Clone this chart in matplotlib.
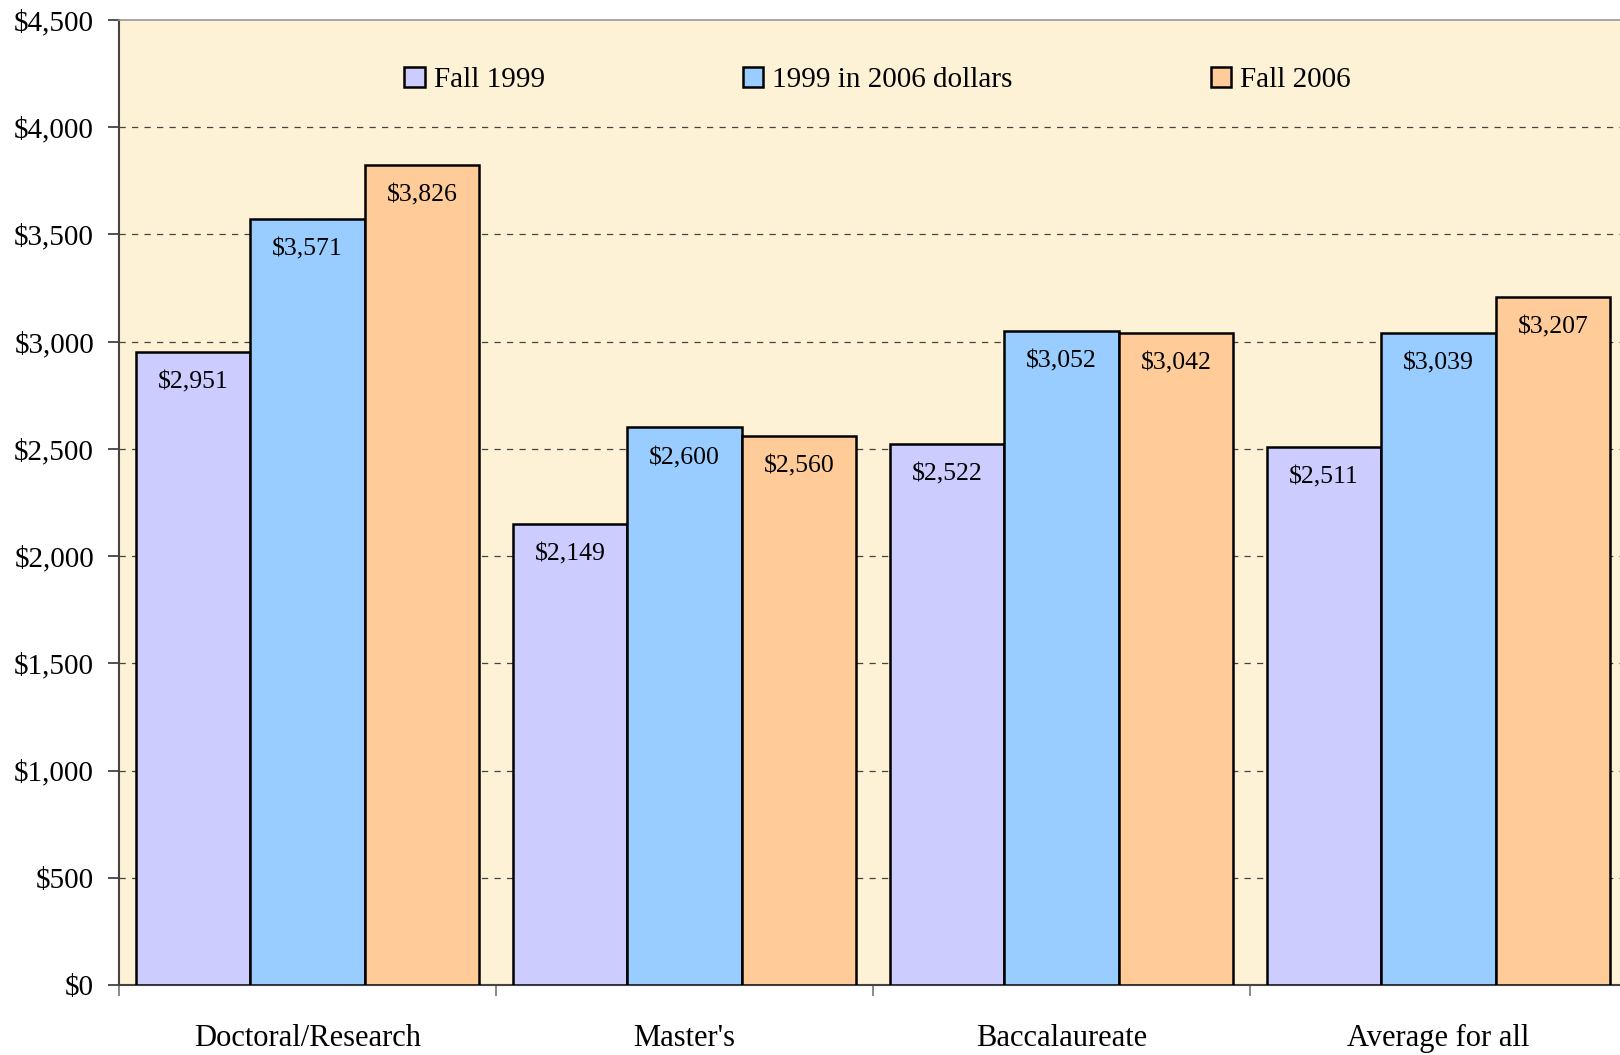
import matplotlib
matplotlib.use("Agg")
import matplotlib.pyplot as plt
import numpy as np

# --------- Data ---------
categories = ["Doctoral/Research", "Master's", "Baccalaureate", "Average for all"]
series_names = ["Fall 1999", "1999 in 2006 dollars", "Fall 2006"]
fall_1999 = [2951, 2149, 2522, 2511]
dollars_2006 = [3571, 2600, 3052, 3039]
fall_2006 = [3826, 2560, 3042, 3207]
y_ticks = [0, 500, 1000, 1500, 2000, 2500, 3000, 3500, 4000, 4500]
# ------------------------

colors = ["#CCCCFF", "#99CCFF", "#FFCC99"]
bg_color = "#FDF2D5"

plt.rcParams["font.family"] = ["Liberation Serif", "DejaVu Serif"]

fig = plt.figure(figsize=(16.2, 10.55), dpi=100)
# plot area runs slightly past the right edge like the original
ax = fig.add_axes([0.0735, 0.0664, 0.9308, 0.9146])
ax.set_facecolor(bg_color)

x = np.arange(len(categories))
bar_w = 0.304
all_series = [fall_1999, dollars_2006, fall_2006]

for i, (vals, name, col) in enumerate(zip(all_series, series_names, colors)):
    pos = x + (i - 1) * bar_w
    bars = ax.bar(pos, vals, width=bar_w, color=col, edgecolor="black",
                  linewidth=1.8, label=name, zorder=3)
    for b, v in zip(bars, vals):
        ax.annotate(f"${v:,}", (b.get_x() + b.get_width() / 2, v),
                    xytext=(0, -22), textcoords="offset points",
                    ha="center", va="center", fontsize=18.5, zorder=4)

ax.set_xlim(-0.5, len(categories) - 0.5)
ax.set_ylim(0, 4500)

# y axis
ax.set_yticks(y_ticks)
ax.set_yticklabels([f"${v:,}" for v in y_ticks], fontsize=21)
ax.tick_params(axis="y", direction="out", length=8, width=1.2,
               color="#333333", pad=10)
for v in y_ticks[1:-1]:
    ax.axhline(v, color="#444444", linestyle=(0, (5, 5)), linewidth=0.9, zorder=1)

# x axis: labels at centers, ticks at group boundaries
ax.set_xticks(x)
ax.set_xticklabels(categories, fontsize=22)
ax.tick_params(axis="x", which="major", length=0, pad=28)
ax.set_xticks(np.arange(len(categories) + 1) - 0.5, minor=True)
ax.tick_params(axis="x", which="minor", direction="out", length=8,
               width=1.2, color="#777777")

for side in ["left", "bottom"]:
    ax.spines[side].set_color("#444444")
    ax.spines[side].set_linewidth(1.5)
ax.spines["top"].set_color("#999999")
ax.spines["top"].set_linewidth(1.2)
ax.spines["right"].set_visible(False)

leg = ax.legend(loc="center", bbox_to_anchor=(0.5417, 0.924),
                bbox_transform=fig.transFigure, ncol=3, frameon=False,
                fontsize=21, handlelength=0.7, handleheight=0.7,
                handletextpad=0.3, columnspacing=6.8)
for h in leg.legend_handles:
    h.set_linewidth(1.8)

fig.savefig("out.png", dpi=100, facecolor="white")
